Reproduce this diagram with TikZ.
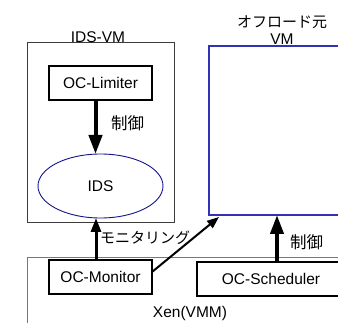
\documentclass[tikz,border=0pt]{standalone}
\usepackage{fontspec}
\setmainfont{Liberation Sans}
\newfontfamily\jp{Noto Sans CJK JP}
\usetikzlibrary{arrows.meta,shapes.geometric}
\definecolor{boxgray}{RGB}{60,60,60}
\definecolor{xengray}{RGB}{120,120,120}
\definecolor{offblue}{RGB}{50,50,180}
\definecolor{idsnavy}{RGB}{20,20,140}
\begin{document}
\begin{tikzpicture}[x=1pt,y=-1pt,
  every node/.style={inner sep=0pt,outer sep=0pt,font=\fontsize{15.5}{17}\selectfont},
  frame/.style={draw,anchor=north west,line width=1pt},
  comp/.style={draw=black,line width=2pt,fill=white,minimum height=34pt},
  jptext/.style={font=\jp\fontsize{15}{17}\selectfont},
  ctltext/.style={font=\jp\fontsize{16.5}{18}\selectfont},
  bigarrow/.style={line width=4pt,-{Triangle[length=19pt,width=13pt]}},
  midarrow/.style={line width=3pt,-{Triangle[length=14pt,width=10pt]}},
  thinarrow/.style={line width=2pt,-{Triangle[length=12pt,width=9pt]}}]
\clip (0,0) rectangle (338,323);
\fill[white] (0,0) rectangle (338,323);
% frames
\node[frame,draw=boxgray,minimum width=147pt,minimum height=180pt] (idsvm) at (27,43) {};
\node[frame,draw=offblue,line width=1.25pt,minimum width=160pt,minimum height=169pt] (off) at (209,46) {};
\node[frame,draw=xengray,minimum width=330pt,minimum height=80pt] (xen) at (27,258) {};
% labels of frames
\node (idsvmlbl) at (98,37) {IDS-VM};
\node[jptext,align=center] (offlbl) at (282,30) {オフロード元\\{\fontsize{15.5}{17}\selectfont\rmfamily VM}};
\node (xenlbl) at (190,313) {Xen(VMM)};
% components
\node[comp,minimum width=103pt] (lim) at (100.5,83) {OC-Limiter};
\node[ellipse,draw=idsnavy,line width=0.9pt,minimum width=125pt,minimum height=64pt] (ids) at (100.5,186) {IDS};
\node[comp,minimum width=103pt] (mon) at (100.5,277) {OC-Monitor};
\node[comp,minimum width=160pt,anchor=north west] (sch) at (197,262) {};
\node (schlbl) at (271,279) {OC-Scheduler};
% arrows
\draw[bigarrow] ([xshift=-5pt]lim.south) -- ([xshift=-5pt]ids.north);
\node[ctltext,anchor=west] (ctl1) at (111,123) {制御};
\draw[midarrow] ([xshift=-4.5pt]mon.north) -- ([xshift=-4.5pt]ids.south);
\node[jptext,anchor=west] (monlbl) at (100,238) {モニタリング};
\draw[thinarrow] ([yshift=5pt]mon.east) -- ([xshift=10pt,yshift=-2pt]off.south west);
\draw[bigarrow] (sch.north) -- (sch.north |- off.south);
\node[ctltext,anchor=west] (ctl2) at (290,242) {制御};
\end{tikzpicture}
\end{document}
